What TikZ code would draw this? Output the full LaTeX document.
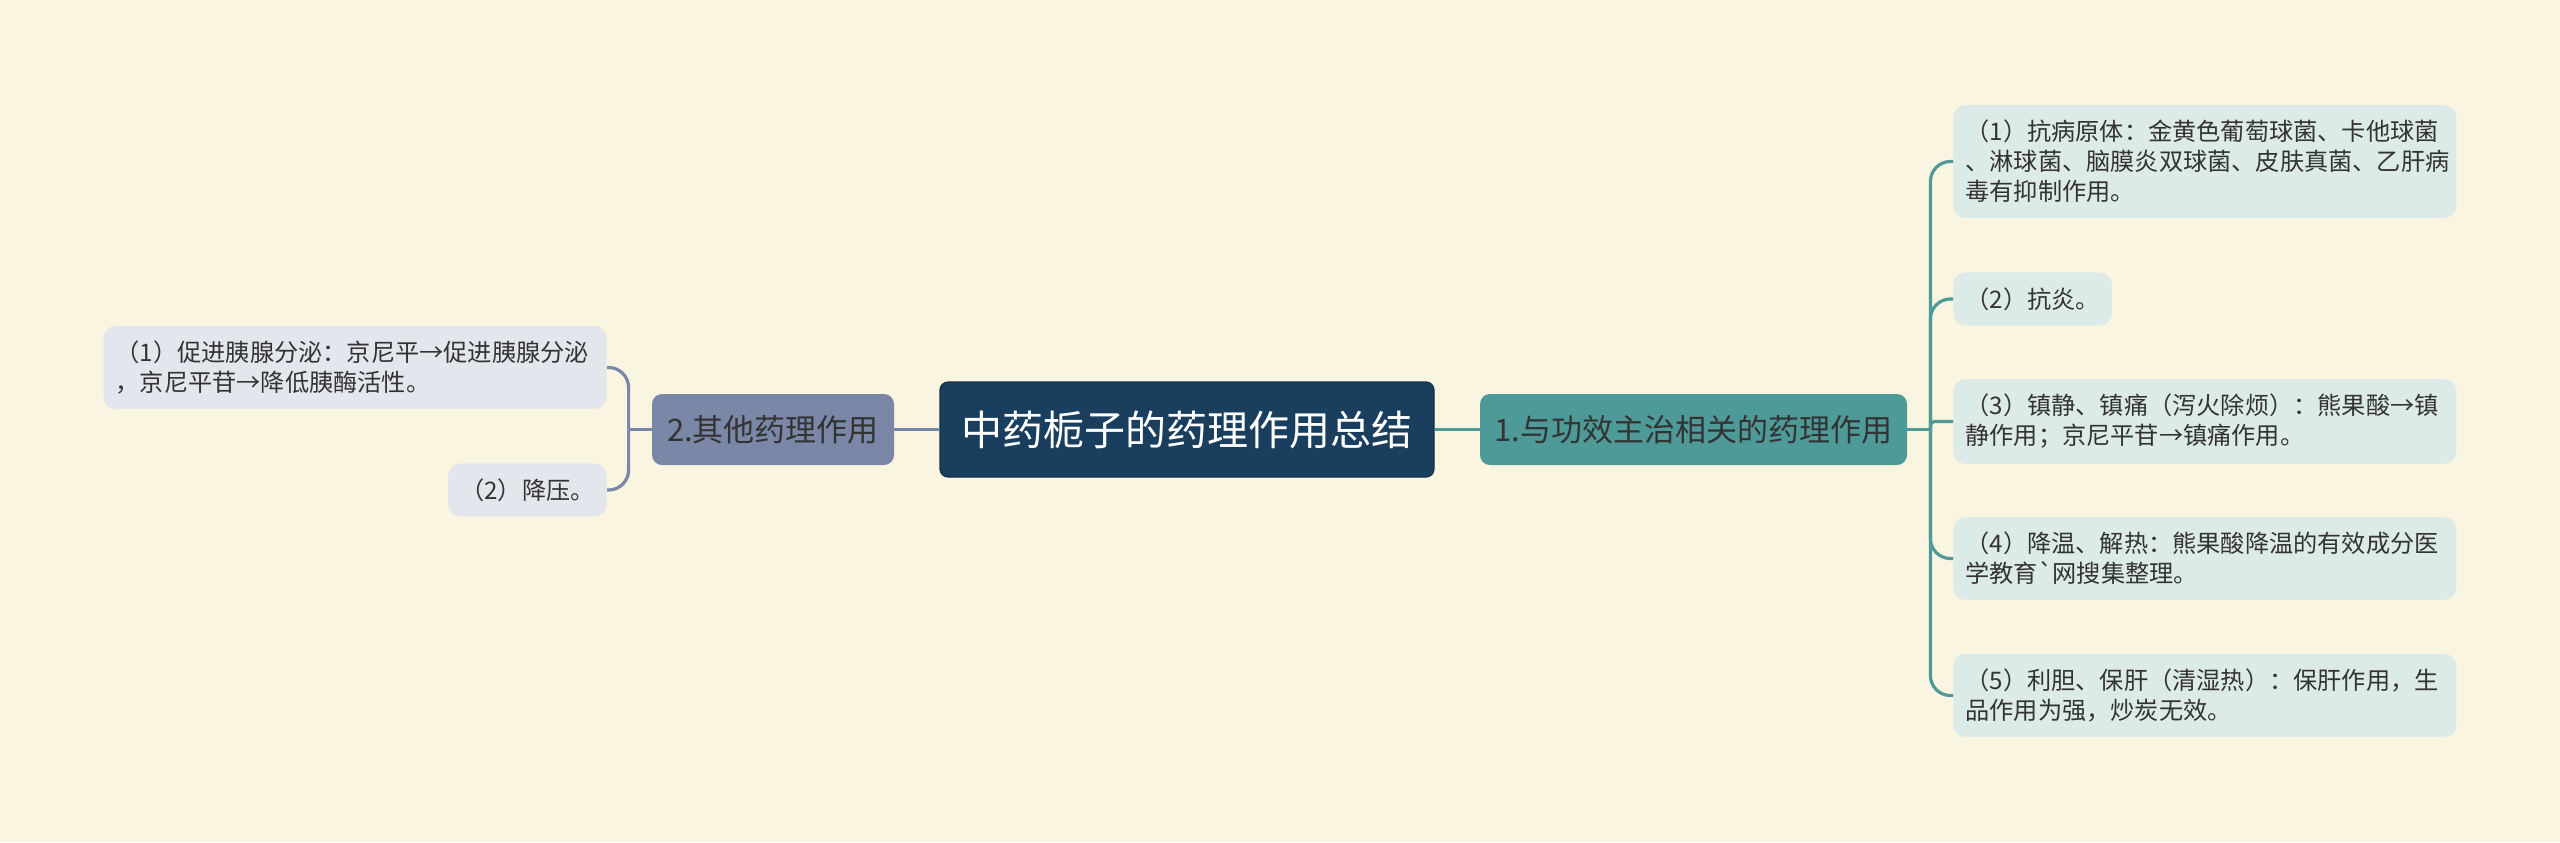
\documentclass[tikz,border=0pt]{standalone}
\usepackage{fontspec}
\usepackage{tikz}
\usetikzlibrary{positioning}
\newfontfamily\cjk{Noto Sans CJK SC}
\definecolor{bgc}{HTML}{FAF5E0}
\definecolor{rootc}{HTML}{1A3F5E}
\definecolor{tealc}{HTML}{4E9A98}
\definecolor{slatec}{HTML}{7B87A7}
\definecolor{leafr}{HTML}{DCEAE8}
\definecolor{leafl}{HTML}{E3E6EC}
\definecolor{txtc}{HTML}{333333}

\begin{document}
\begin{tikzpicture}[x=0.5pt, y=-0.5pt, node distance=22.5pt,
  every node/.style={font=\cjk, text=txtc, inner sep=0pt},
  root/.style={fill=rootc, draw=rootc!75!black, line width=0.6pt, text=white,
    font=\cjk\fontsize{20.5}{24}\selectfont, minimum width=247pt,
    minimum height=47.5pt, rounded corners=4pt},
  branch/.style={font=\cjk\fontsize{15.5}{19}\selectfont, minimum height=35.5pt,
    rounded corners=5pt},
  leaf/.style={font=\cjk\fontsize{12.1}{15}\selectfont, align=left,
    inner xsep=6pt, inner ysep=7.5pt, rounded corners=6pt},
  wide/.style={leaf, text width=239.5pt},
  rlink/.style={draw=tealc, line width=1.6pt},
  llink/.style={draw=slatec, line width=1.6pt}]

  \fill[bgc] (0,0) rectangle (2560,842);
  \useasboundingbox (0,0) rectangle (2560,842);

  \node[root] (root) at (1187,429.5) {中药栀子的药理作用总结};
  \node[branch, fill=tealc, minimum width=213.5pt, right=of root] (effect) {1.与功效主治相关的药理作用};
  \node[branch, fill=slatec, minimum width=121pt, left=of root] (other) {2.其他药理作用};

  % right side
  \node[wide, fill=leafr, anchor=west] (e1) at (1953,161.5)
    {（1）抗病原体：金黄色葡萄球菌、卡他球菌\\、淋球菌、脑膜炎双球菌、皮肤真菌、乙肝病\\毒有抑制作用。};
  \node[leaf, fill=leafr, anchor=west] (e2) at (1953,299) {（2）抗炎。};
  \node[wide, fill=leafr, anchor=west] (e3) at (1953,421.5)
    {（3）镇静、镇痛（泻火除烦）：熊果酸→镇\\静作用；京尼平苷→镇痛作用。};
  \node[wide, fill=leafr, anchor=west] (e4) at (1953,558.5)
    {（4）降温、解热：熊果酸降温的有效成分医\\学教育`网搜集整理。};
  \node[wide, fill=leafr, anchor=west] (e5) at (1953,695.5)
    {（5）利胆、保肝（清湿热）：保肝作用，生\\品作用为强，炒炭无效。};

  % left side
  \node[wide, fill=leafl, anchor=east] (o1) at (607,367.5)
    {（1）促进胰腺分泌：京尼平→促进胰腺分泌\\，京尼平苷→降低胰酶活性。};
  \node[leaf, fill=leafl, anchor=east] (o2) at (607,490) {（2）降压。};

  \coordinate[right=11.5pt of effect] (ej);
  \coordinate[left=11.5pt of other] (oj);

  \draw[rlink] (root) -- (effect);
  \draw[rlink] (effect) -- (ej);
  \foreach \n in {e1,e2,e4,e5}
    \draw[rlink, rounded corners=10pt] (ej) |- (\n);
  \draw[rlink, rounded corners=2pt] (ej) |- (e3);

  \draw[llink] (root) -- (other);
  \draw[llink] (other) -- (oj);
  \foreach \n in {o1,o2}
    \draw[llink, rounded corners=10pt] (oj) |- (\n);

\end{tikzpicture}
\end{document}
